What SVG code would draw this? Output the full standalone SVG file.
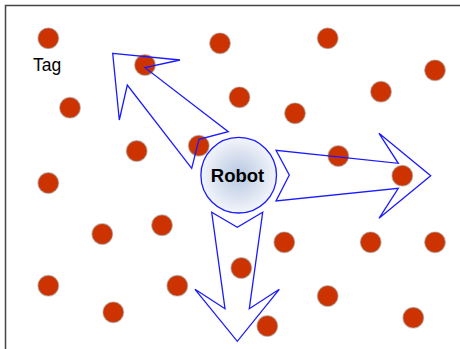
<svg xmlns="http://www.w3.org/2000/svg" width="460" height="349" viewBox="0 0 460 349">
<defs>
<radialGradient id="rg" cx="50%" cy="50%" r="50%">
<stop offset="0" stop-color="#b7c7e0"/>
<stop offset="1" stop-color="#f2f5fb"/>
</radialGradient>
<style>
.tag{fill:#cc3300;stroke:#9a9088;stroke-opacity:0.55;stroke-width:1.2}
.arr{fill:none;stroke:#1a1aff;stroke-width:1.3;stroke-linejoin:miter}
text{font-family:"Liberation Sans",Arial,sans-serif}
</style>
</defs>
<rect width="460" height="349" fill="#fff"/>
<path d="M5.5,349 V5.5 H460" fill="none" stroke="#444" stroke-width="1.5"/>
<g id="tags">
<circle class="tag" cx="48.3" cy="38.3" r="10.3"/>
<circle class="tag" cx="145" cy="65" r="10.3"/>
<circle class="tag" cx="220" cy="43.3" r="10.3"/>
<circle class="tag" cx="327.7" cy="38.3" r="10.3"/>
<circle class="tag" cx="435" cy="70.3" r="10.3"/>
<circle class="tag" cx="70" cy="107.7" r="10.3"/>
<circle class="tag" cx="239.5" cy="97.3" r="10.3"/>
<circle class="tag" cx="295" cy="113.3" r="10.3"/>
<circle class="tag" cx="381" cy="91.7" r="10.3"/>
<circle class="tag" cx="136.7" cy="151" r="10.3"/>
<circle class="tag" cx="198.8" cy="145.7" r="10.3"/>
<circle class="tag" cx="338.3" cy="156" r="10.3"/>
<circle class="tag" cx="402.3" cy="175.7" r="10.3"/>
<circle class="tag" cx="48.3" cy="183" r="10.3"/>
<circle class="tag" cx="102.3" cy="234" r="10.3"/>
<circle class="tag" cx="162" cy="225.2" r="10.3"/>
<circle class="tag" cx="284.3" cy="242.3" r="10.3"/>
<circle class="tag" cx="370.7" cy="242.3" r="10.3"/>
<circle class="tag" cx="435" cy="242.3" r="10.3"/>
<circle class="tag" cx="241.3" cy="268" r="10.3"/>
<circle class="tag" cx="48.3" cy="285.7" r="10.3"/>
<circle class="tag" cx="177.3" cy="285.7" r="10.3"/>
<circle class="tag" cx="327.7" cy="296" r="10.3"/>
<circle class="tag" cx="113.3" cy="312.3" r="10.3"/>
<circle class="tag" cx="267.3" cy="326" r="10.3"/>
<circle class="tag" cx="413.3" cy="317.7" r="10.3"/>
</g>
<g id="label-tag"><text x="33" y="71" font-size="17.5" fill="#000">Tag</text></g>
<g id="connectors">
<polygon class="arr" points="112.7,53.3 180,60 145,67.7 228.3,131.7 199,139.3 191.7,168.3 127.3,85 119.3,120"/>
<polygon class="arr" points="276,150.3 289.3,175 276,201 398.3,188.3 379,218.3 430.7,175.7 379,133.3 398.3,163.3"/>
<polygon class="arr" points="211.7,212.3 237.3,227.3 262.7,212.3 249.3,308.7 279.3,289.3 237.3,341.3 195,289.3 225,308.7"/>
</g>
<g id="robot">
<circle cx="238.7" cy="175.2" r="37.8" fill="url(#rg)" stroke="#1a1aff" stroke-width="1.3"/>
<text x="237.5" y="181.5" font-size="18.5" font-weight="bold" text-anchor="middle" fill="#000">Robot</text>
</g>
</svg>
